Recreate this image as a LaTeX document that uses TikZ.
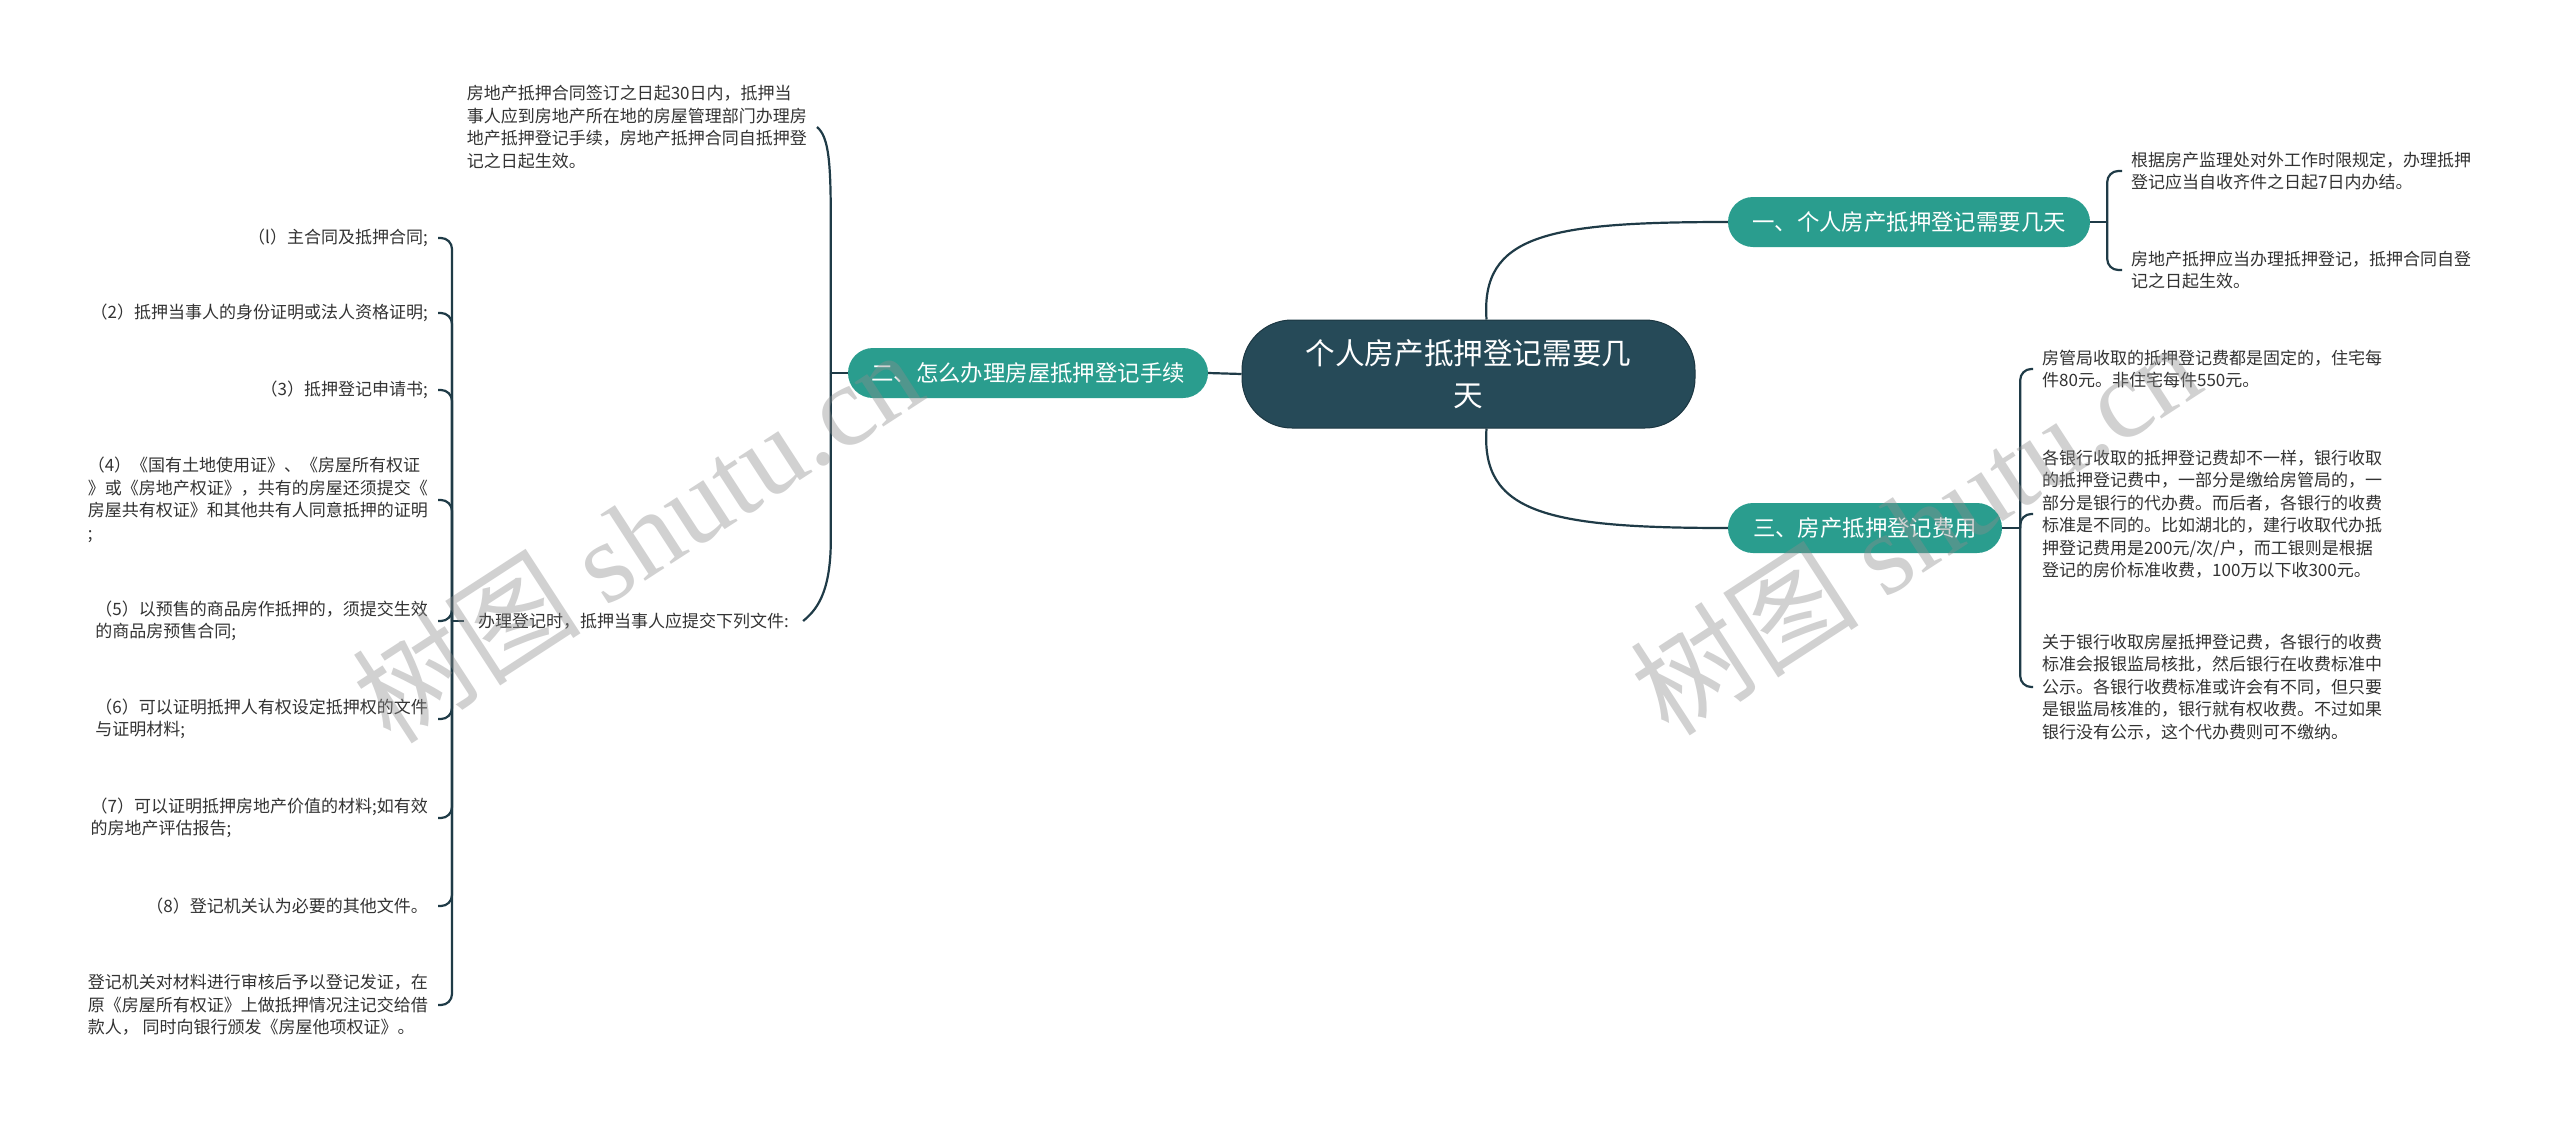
\documentclass[tikz,border=0pt]{standalone}
\usepackage{fontspec}
\setmainfont{Noto Sans CJK SC}
\newfontfamily\cjk{Noto Sans CJK SC}
\newfontfamily\wmfont{Liberation Serif}
\definecolor{rootc}{HTML}{264A58}
\definecolor{tealc}{HTML}{2A9D8E}
\definecolor{linec}{HTML}{1F3B47}
\definecolor{leafc}{HTML}{333333}
\begin{document}
\begin{tikzpicture}[x=1bp,y=-1bp,
  conn/.style={draw=linec, line width=2.2bp},
  brace/.style={draw=linec, line width=2.2bp, rounded corners=11bp},
  rootbox/.style={fill=rootc, draw=rootc!75!black, line width=1bp, text=white, rounded corners=50bp,
    minimum width=453bp, minimum height=108bp, inner sep=0pt, align=center,
    font=\fontsize{29.6bp}{42bp}\selectfont},
  branch/.style={fill=tealc, text=white, rounded corners=25bp, minimum height=50bp, inner sep=0pt,
    font=\fontsize{22.4bp}{26bp}\selectfont},
  leafL/.style={anchor=east, align=left, text=leafc, inner xsep=10bp, inner ysep=2bp,
    font=\fontsize{17bp}{22.5bp}\selectfont},
  leafR/.style={anchor=west, align=left, text=leafc, inner xsep=9bp, inner ysep=2bp,
    font=\fontsize{17bp}{22.5bp}\selectfont},
  wm/.style={text=black!45, opacity=0.4, rotate=33, inner sep=0pt,
    font=\fontsize{115bp}{115bp}\selectfont}
]
\fill[white] (0,0) rectangle (2560,1121);
\useasboundingbox (0,0) rectangle (2560,1121);

% root and branches
\node[rootbox] (root) at (1468.5,374) {个人房产抵押登记需要几\\天};
\node[branch, minimum width=362bp] (b1) at (1909,222) {一、个人房产抵押登记需要几天};
\node[branch, minimum width=360bp] (b2) at (1028,373) {二、怎么办理房屋抵押登记手续};
\node[branch, minimum width=274bp] (b3) at (1865,528) {三、房产抵押登记费用};

% branch 1 leaves
\node[leafR] (b1a) at (2122,171) {根据房产监理处对外工作时限规定，办理抵押\\登记应当自收齐件之日起7日内办结。};
\node[leafR] (b1b) at (2122,270) {房地产抵押应当办理抵押登记，抵押合同自登\\记之日起生效。};

% branch 3 leaves
\node[leafR] (b3a) at (2033,369) {房管局收取的抵押登记费都是固定的，住宅每\\件80元。非住宅每件550元。};
\node[leafR] (b3b) at (2033,514) {各银行收取的抵押登记费却不一样，银行收取\\的抵押登记费中，一部分是缴给房管局的，一\\部分是银行的代办费。而后者，各银行的收费\\标准是不同的。比如湖北的，建行收取代办抵\\押登记费用是200元/次/户，而工银则是根据\\登记的房价标准收费，100万以下收300元。};
\node[leafR] (b3c) at (2033,687) {关于银行收取房屋抵押登记费，各银行的收费\\标准会报银监局核批，然后银行在收费标准中\\公示。各银行收费标准或许会有不同，但只要\\是银监局核准的，银行就有权收费。不过如果\\银行没有公示，这个代办费则可不缴纳。};

% branch 2 leaves
\node[leafL] (t0) at (817,127) {房地产抵押合同签订之日起30日内，抵押当\\事人应到房地产所在地的房屋管理部门办理房\\地产抵押登记手续，房地产抵押合同自抵押登\\记之日起生效。};
\node[leafR, inner xsep=14bp] (mid) at (464,621) {办理登记时，抵押当事人应提交下列文件:};

% items
\node[leafL] (i1) at (438,238) {（l）主合同及抵押合同;};
\node[leafL] (i2) at (438,313) {（2）抵押当事人的身份证明或法人资格证明;};
\node[leafL] (i3) at (438,390) {（3）抵押登记申请书;};
\node[leafL] (i4) at (438,500) {（4）《国有土地使用证》、《房屋所有权证\\》或《房地产权证》，共有的房屋还须提交《\\房屋共有权证》和其他共有人同意抵押的证明\\;};
\node[leafL] (i5) at (438,621) {（5）以预售的商品房作抵押的，须提交生效\\的商品房预售合同;};
\node[leafL] (i6) at (438,719) {（6）可以证明抵押人有权设定抵押权的文件\\与证明材料;};
\node[leafL] (i7) at (438,818) {（7）可以证明抵押房地产价值的材料;如有效\\的房地产评估报告;};
\node[leafL] (i8) at (438,906) {（8）登记机关认为必要的其他文件。};
\node[leafL] (i9) at (438,1005) {登记机关对材料进行审核后予以登记发证，在\\原《房屋所有权证》上做抵押情况注记交给借\\款人， 同时向银行颁发《房屋他项权证》。};

% root connectors
\draw[conn] (root.west) -- (b2.east);
\draw[conn] ([xshift=18bp]root.north) .. controls +(-6,-85) and +(-180,0) .. (b1.west);
\draw[conn] ([xshift=18bp]root.south) .. controls +(-6,85) and +(-180,0) .. (b3.west);

% branch 1 brace
\draw[conn] (b1.east) -- ++(17,0) coordinate (j1);
\draw[brace] (j1) |- (b1a.west);
\draw[brace] (j1) |- (b1b.west);

% branch 3 brace
\draw[conn] (b3.east) -- ++(18,0) coordinate (j3);
\draw[brace] (j3) |- (b3a.west);
\draw[brace] (j3) |- (b3b.west);
\draw[brace] (j3) |- (b3c.west);

% branch 2 brace
\draw[conn] (b2.west) -- ++(-17,0) coordinate (j2);
\draw[conn] (j2) -- ++(0,-150) .. controls +(0,-60) and +(12,10) .. (t0.east);
\draw[conn] (j2) -- ++(0,167) .. controls +(0,55) and +(12,-10) .. (mid.east);

% items brace
\draw[conn] (mid.west) -- ++(-12,0) coordinate (jl);
\foreach \n in {i1,i2,i3,i4,i5,i6,i7,i8,i9}{
  \draw[brace] (jl) |- (\n.east);
}

% watermarks
\node[wm] (wm1) at (637,535) {{\cjk 树图} {\wmfont shutu.cn}};
\node[wm] (wm2) at (1915,527) {{\cjk 树图} {\wmfont shutu.cn}};
\end{tikzpicture}
\end{document}
